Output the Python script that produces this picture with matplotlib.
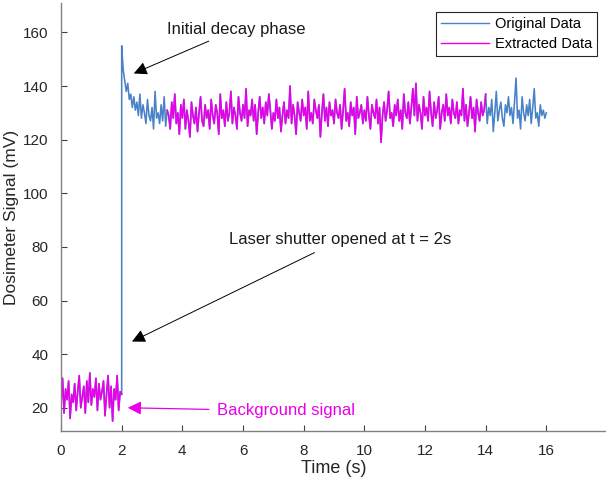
import numpy as np
import matplotlib.pyplot as plt

plt.rcParams['font.family'] = ['Liberation Sans', 'DejaVu Sans']

# background signal, shutter closed (0 - 2 s, every 0.05 s)
bg_vals = [21, 31, 18, 27, 23, 30, 16, 25, 22, 29, 19, 26, 32, 20, 24, 28, 18, 30, 22, 33,
           21, 27, 24, 31, 19, 29, 23, 26, 30, 17, 25, 32, 20, 28, 15, 27, 23, 32, 19, 26,
           25]

# signal after shutter opened (2 - 16 s, every 0.05 s)
sig_vals = [155, 146, 142, 138, 141, 135, 137, 132, 136, 131, 134, 129, 137, 128, 133, 130, 126, 135, 129, 127,
            132, 124, 138, 128, 130, 126, 133, 127, 136, 125, 131, 129, 124, 134, 128, 137, 126, 130, 122, 133,
            128, 135, 124, 131, 127, 121, 134, 129, 126, 132, 123, 130, 136, 127, 125, 133, 128, 131, 124, 135,
            129, 126, 133, 130, 122, 137, 128, 131, 125, 134, 127, 130, 138, 126, 132, 129, 124, 136, 130, 127,
            133, 128, 139, 125, 131, 129, 135, 127, 133, 122, 130, 136, 128, 132, 126, 134, 129, 137, 131, 124,
            130, 127, 135, 128, 132, 123, 129, 134, 126, 131, 128, 140, 126, 133, 129, 122, 134, 130, 127, 135,
            129, 132, 124, 138, 127, 130, 126, 135, 131, 128, 133, 121, 130, 137, 127, 132, 125, 134, 129, 131,
            126, 135, 130, 128, 133, 124, 131, 139, 127, 130, 125, 134, 129, 132, 122, 136, 128, 130, 133, 126,
            131, 127, 136, 129, 124, 133, 130, 128, 135, 126, 132, 119, 129, 134, 127, 131, 138, 128, 130, 125,
            133, 129, 135, 127, 131, 124, 137, 130, 128, 134, 126, 132, 139, 129, 141, 127, 133, 130, 124, 136,
            129, 132, 127, 138, 130, 125, 134, 128, 131, 136, 124, 130, 133, 127, 137, 129, 132, 126, 135, 130,
            128, 134, 126, 131, 129, 139, 127, 133, 125, 130, 136, 128, 132, 123, 135, 130, 127, 134, 129, 131,
            137, 126, 132, 129, 135, 123, 130, 138, 127, 131, 134, 128, 125, 133, 130, 136, 129, 132, 126, 134,
            143, 128, 131, 124, 136, 130, 127, 133, 129, 135, 126, 132, 139, 128, 130, 125, 133, 129, 131, 128,
            130]

dt = 0.05
t_bg = np.arange(len(bg_vals)) * dt
t_sig = 2.0 + np.arange(len(sig_vals)) * dt
bg = np.array(bg_vals, dtype=float)
sig = np.array(sig_vals, dtype=float)

t_all = np.concatenate([t_bg, t_sig])
y_all = np.concatenate([bg, sig])

# extracted window of the plateau
ext_start, ext_end = 3.5, 14.0
m = (t_sig >= ext_start) & (t_sig <= ext_end)

blue = '#4a82c8'
mag = '#e800e8'
txt = '#1a1a1a'

fig = plt.figure(figsize=(6.06, 4.86), dpi=100)
ax = fig.add_axes([0.1007, 0.113, 0.901, 0.881])

ax.plot(t_all, y_all, color=blue, lw=1.15, label='Original Data')
ax.plot(t_sig[m], sig[m], color=mag, lw=1.15, label='Extracted Data')
ax.plot(t_bg, bg, color=mag, lw=1.15)

ax.set_xlim(0, 18)
ax.set_ylim(11.3, 171)
ax.set_xticks(np.arange(0, 17, 2))
ax.set_yticks(np.arange(20, 161, 20))

for s in ['top', 'right']:
    ax.spines[s].set_visible(False)
for s in ['left', 'bottom']:
    ax.spines[s].set_color('#808080')
    ax.spines[s].set_linewidth(1.0)
ax.tick_params(direction='in', length=4, color='#404040', labelsize=11,
               labelcolor='#262626', pad=9)

ax.set_xlabel('Time (s)', fontsize=13, color='#262626', labelpad=1.5)
ax.set_ylabel('Dosimeter Signal (mV)', fontsize=12.5, color='#262626', labelpad=3)

leg = ax.legend(loc='upper right', bbox_to_anchor=(0.982, 0.979), fontsize=10.5,
                fancybox=False, edgecolor='#262626', framealpha=1, borderpad=0.35,
                handlelength=3.3, labelspacing=0.4, borderaxespad=0, handletextpad=0.4)
leg.get_frame().set_linewidth(0.8)
for h in leg.get_lines():
    h.set_linewidth(1.0)

ax.annotate('Initial decay phase', xy=(2.4, 144.7), xytext=(3.5, 161.2),
            fontsize=12, color=txt, va='center', ha='left',
            arrowprops=dict(arrowstyle='-|>', color='k', lw=0.7, mutation_scale=20,
                            shrinkA=3, shrinkB=0))
ax.annotate('Laser shutter opened at t = 2s', xy=(2.34, 44.7), xytext=(5.55, 82.6),
            fontsize=12, color=txt, va='center', ha='left',
            arrowprops=dict(arrowstyle='-|>', color='k', lw=0.7, mutation_scale=20,
                            shrinkA=4, shrinkB=0))
ax.annotate('Background signal', xy=(2.2, 20.0), xytext=(5.15, 18.8),
            fontsize=12, color=mag, va='center', ha='left',
            arrowprops=dict(arrowstyle='-|>', color=mag, lw=0.9, mutation_scale=20,
                            shrinkA=4, shrinkB=0))

fig.savefig('out.png', dpi=100)
